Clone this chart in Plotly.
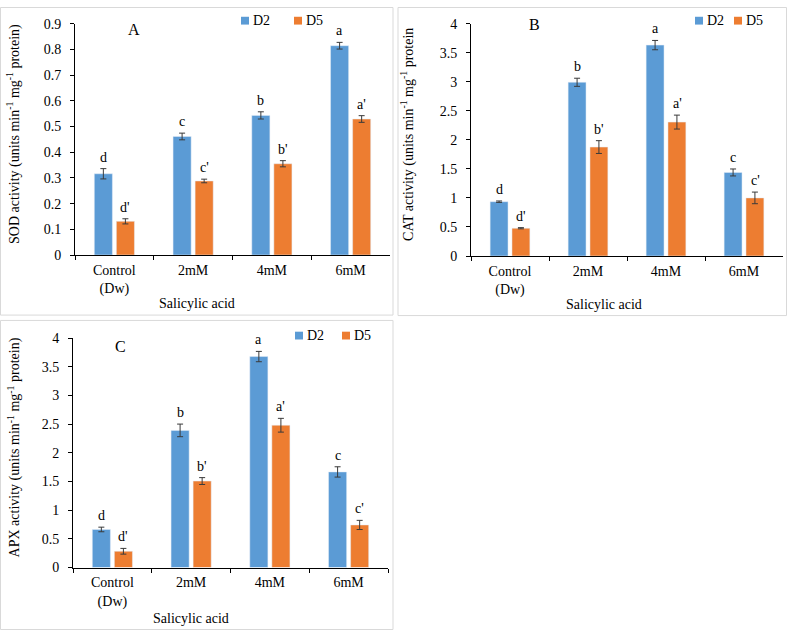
import plotly.graph_objects as go

W, H = 787, 638

# ---------------- data ----------------
categories = ["Control<br>(Dw)", "2mM", "4mM", "6mM"]
series_names = ["D2", "D5"]

sod_d2 = [0.316, 0.461, 0.543, 0.814]
sod_d5 = [0.131, 0.288, 0.355, 0.529]
sod_d2_err = [0.020, 0.013, 0.014, 0.013]
sod_d5_err = [0.010, 0.007, 0.012, 0.013]
sod_d2_lbl = ["d", "c", "b", "a"]
sod_d5_lbl = ["d'", "c'", "b'", "a'"]

cat_d2 = [0.935, 2.99, 3.63, 1.438]
cat_d5 = [0.478, 1.875, 2.305, 1.00]
cat_d2_err = [0.012, 0.07, 0.08, 0.06]
cat_d5_err = [0.010, 0.11, 0.12, 0.10]
cat_d2_lbl = ["d", "b", "a", "c"]
cat_d5_lbl = ["d'", "b'", "a'", "c'"]

apx_d2 = [0.663, 2.39, 3.677, 1.666]
apx_d5 = [0.283, 1.507, 2.48, 0.742]
apx_d2_err = [0.04, 0.11, 0.09, 0.09]
apx_d5_err = [0.05, 0.06, 0.12, 0.08]
apx_d2_lbl = ["d", "b", "a", "c"]
apx_d5_lbl = ["d'", "b'", "a'", "c'"]

x_title = "Salicylic acid"
y_titles = [
    "SOD activity (units min<sup>-1</sup> mg<sup>-1</sup> protein)",
    "CAT activity (units min<sup>-1</sup> mg<sup>-1</sup> protein",
    "APX activity (units min<sup>-1</sup> mg<sup>-1</sup> protein)",
]
panel_letters = ["A", "B", "C"]

# ---------------- styling / layout ----------------
BLUE = "#5B9BD5"
ORANGE = "#ED7D31"
FONT = "Liberation Serif, Times New Roman, serif"


def px(x):
    return x / W


def py(y):
    return 1 - y / H


panels = [
    dict(ax="", d2=sod_d2, d5=sod_d5, e2=sod_d2_err, e5=sod_d5_err, l2=sod_d2_lbl, l5=sod_d5_lbl,
         xdom=(75, 390), ydom=(17, 254), yrange=(0, 0.9), dtick=0.1,
         ytitle=(14, 130), xtitle=(197, 304), letter=(134, 23),
         leg=[(241, 10, 251), (294, 10, 304)], border=(0.5, 0.5, 393, 315.5)),
    dict(ax="2", d2=cat_d2, d5=cat_d5, e2=cat_d2_err, e5=cat_d5_err, l2=cat_d2_lbl, l5=cat_d5_lbl,
         xdom=(471, 783), ydom=(17, 255), yrange=(0, 4), dtick=0.5,
         ytitle=(408, 131), xtitle=(604, 305), letter=(534, 18),
         leg=[(695, 10, 705), (734, 10, 744)], border=(398, 0.5, 786.5, 316)),
    dict(ax="3", d2=apx_d2, d5=apx_d5, e2=apx_d2_err, e5=apx_d5_err, l2=apx_d2_lbl, l5=apx_d5_lbl,
         xdom=(73, 388), ydom=(339, 574), yrange=(0, 4), dtick=0.5,
         ytitle=(14, 451), xtitle=(191, 626), letter=(121, 348),
         leg=[(295, 332.5, 305), (342, 332.5, 352)], border=(0.5, 321, 393, 637.5)),
]

fig = go.Figure()
annotations = []
shapes = []

for i, p in enumerate(panels):
    xa = "x" + p["ax"]
    ya = "y" + p["ax"]
    for name, vals, errs, lbls, color, shift in [
        (series_names[0], p["d2"], p["e2"], p["l2"], BLUE, -11),
        (series_names[1], p["d5"], p["e5"], p["l5"], ORANGE, 11),
    ]:
        fig.add_trace(go.Bar(
            x=categories, y=vals, name=name, marker_color=color,
            error_y=dict(type="data", array=errs, color="#3a3a3a", thickness=1, width=3),
            xaxis=xa, yaxis=ya, showlegend=False,
        ))
        for c, v, e, t in zip(categories, vals, errs, lbls):
            annotations.append(dict(
                x=c, y=v + e, xref=xa, yref=ya, text=t, showarrow=False,
                xshift=shift, yshift=2, yanchor="bottom", xanchor="center",
                font=dict(family=FONT, size=14, color="black"),
            ))

    axis_x = dict(
        domain=[px(p["xdom"][0]), px(p["xdom"][1])],
        anchor=ya, showgrid=False, showline=True, linecolor="black", linewidth=1,
        ticks="outside", tickson="boundaries", ticklen=4, tickcolor="black",
        tickfont=dict(family=FONT, size=14, color="black"), ticklabelstandoff=2,
    )
    axis_y = dict(
        domain=[py(p["ydom"][1]), py(p["ydom"][0])],
        anchor=xa, range=list(p["yrange"]), dtick=p["dtick"], tick0=0,
        showgrid=False, zeroline=False, showline=True, linecolor="black", linewidth=1,
        ticks="outside", ticklen=4, tickcolor="black",
        tickfont=dict(family=FONT, size=14, color="black"), ticklabelstandoff=6,
    )
    fig.update_layout(**{"xaxis" + p["ax"]: axis_x, "yaxis" + p["ax"]: axis_y})

    # axis titles
    annotations.append(dict(
        x=px(p["ytitle"][0]), y=py(p["ytitle"][1]), xref="paper", yref="paper",
        text=y_titles[i], textangle=-90, showarrow=False, xanchor="center", yanchor="middle",
        font=dict(family=FONT, size=14, color="black"),
    ))
    annotations.append(dict(
        x=px(p["xtitle"][0]), y=py(p["xtitle"][1]), xref="paper", yref="paper",
        text=x_title, showarrow=False, xanchor="center", yanchor="middle",
        font=dict(family=FONT, size=14, color="black"),
    ))
    # panel letter
    annotations.append(dict(
        x=px(p["letter"][0]), y=py(p["letter"][1]), xref="paper", yref="paper",
        text=panel_letters[i], showarrow=False, xanchor="center", yanchor="middle",
        font=dict(family=FONT, size=16, color="black"),
    ))
    # legend
    for (sx, sy, tx), name, color in zip(p["leg"], series_names, [BLUE, ORANGE]):
        shapes.append(dict(type="rect", xref="paper", yref="paper",
                           x0=px(sx), x1=px(sx + 8), y0=py(sy + 8), y1=py(sy),
                           fillcolor=color, line=dict(width=0)))
        annotations.append(dict(
            x=px(tx), y=py(sy + 4), xref="paper", yref="paper", text=name, showarrow=False,
            xanchor="left", yanchor="middle", font=dict(family=FONT, size=14, color="black"),
        ))
    # panel border
    b = p["border"]
    shapes.append(dict(type="rect", xref="paper", yref="paper",
                       x0=px(b[0]), x1=px(b[2]), y0=py(b[3]), y1=py(b[1]),
                       line=dict(color="#d9d9d9", width=1), fillcolor="rgba(0,0,0,0)"))

fig.update_layout(
    width=W, height=H, margin=dict(l=0, r=0, t=0, b=0),
    paper_bgcolor="white", plot_bgcolor="white",
    barmode="group", bargap=0.44, bargroupgap=0.18,
    showlegend=False, annotations=annotations, shapes=shapes,
    font=dict(family=FONT, size=14, color="black"),
)

fig.write_html("out.html", config={"displayModeBar": False},
               post_script="document.body.style.margin='0';")
